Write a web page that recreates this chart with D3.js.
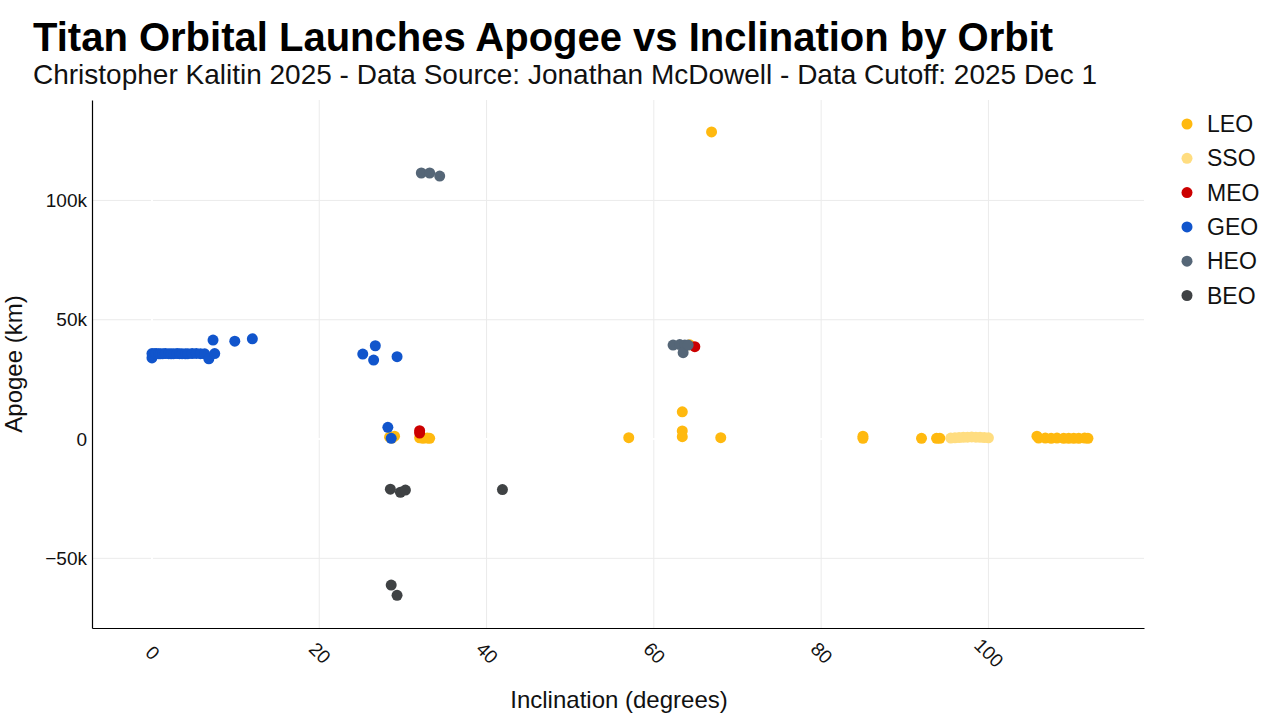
<!DOCTYPE html>
<html>
<head>
<meta charset="utf-8">
<script src="https://cdn.jsdelivr.net/npm/d3@7"></script>
<style>
  body { margin: 0; background: #fff; }
  svg { font-family: "Liberation Sans", Arial, sans-serif; }
</style>
</head>
<body>
<div id="chart"></div>
<script>
// orbit categories and colours (legend order)
var orbits = ["LEO", "SSO", "MEO", "GEO", "HEO", "BEO"];
var orbitColors = ["#ffb90f", "#ffdd80", "#cc0000", "#1155cc", "#556677", "#3f4244"];

// [inclination deg, apogee km] per orbit
var leoPoints = [
  [28.4, 800], [28.7, 400], [29.0, 1200], [32.0, 500], [32.4, 300], [32.9, 400], [33.2, 300],
  [57.0, 550], [63.4, 11400], [63.4, 3400], [63.4, 1000], [64.3, 39500], [66.9, 128700], [68.0, 550],
  [85.0, 1200], [85.0, 300], [92.0, 300], [93.8, 300], [94.2, 300],
  [105.8, 1200], [106.0, 400], [106.8, 400], [107.5, 300], [108.2, 400], [109.0, 300],
  [109.6, 300], [110.2, 300], [110.8, 300], [111.5, 400], [111.9, 300]
];
var ssoPoints = [
  [95.5, 400], [96.0, 500], [96.5, 600], [97.0, 700], [97.5, 800], [98.0, 900],
  [98.5, 800], [99.0, 700], [99.5, 600], [100.0, 500]
];
var meoPoints = [
  [32.0, 3500], [32.0, 2500], [64.9, 38700]
];
var geoPoints = [
  [0.0, 35800], [0.0, 34000], [0.1, 35200], [0.3, 35786], [0.5, 35900], [0.8, 35786], [1.0, 35700],
  [1.3, 35786], [1.6, 35800], [2.0, 35786], [2.3, 35700], [2.6, 35786], [3.0, 35800], [3.3, 35786],
  [3.6, 35786], [4.0, 35700], [4.3, 35786], [4.8, 35800], [5.3, 35900], [5.8, 35786], [6.3, 35700],
  [6.8, 33600], [7.3, 41500], [7.5, 35800], [9.9, 41000], [12.0, 42000],
  [25.2, 35600], [26.5, 33100], [26.7, 39100], [29.3, 34500], [28.2, 4900], [28.6, 300]
];
var heoPoints = [
  [32.2, 111500], [33.2, 111500], [34.4, 110200],
  [62.3, 39400], [63.1, 39600], [63.7, 39400], [63.5, 36200], [64.1, 39400]
];
var beoPoints = [
  [28.5, -21000], [29.7, -22300], [30.3, -21400], [41.9, -21200], [28.6, -61200], [29.3, -65500]
];
var seriesPoints = [leoPoints, ssoPoints, meoPoints, geoPoints, heoPoints, beoPoints];

var xTicks = [0, 20, 40, 60, 80, 100];
var yTicks = [-50000, 0, 50000, 100000];

var titleText = "Titan Orbital Launches Apogee vs Inclination by Orbit";
var subtitleText = "Christopher Kalitin 2025 - Data Source: Jonathan McDowell - Data Cutoff: 2025 Dec 1";

var svgWidth = 1280;
var svgHeight = 720;
var margin = { top: 100, right: 136, bottom: 92, left: 92 };
var width = svgWidth - margin.left - margin.right;
var height = svgHeight - margin.top - margin.bottom;

var svg = d3.select("#chart")
  .append("svg")
  .attr("width", svgWidth)
  .attr("height", svgHeight);

var chartGroup = svg.append("g")
  .attr("transform", `translate(${margin.left}, ${margin.top})`);

var xScale = d3.scaleLinear().domain([-7.17, 118.6]).range([0, width]);
var yScale = d3.scaleLinear().domain([-79200, 142100]).range([height, 0]);

// gridlines
chartGroup.append("g")
  .selectAll("line.gx")
  .data(xTicks)
  .enter().append("line")
  .attr("x1", d => xScale(d)).attr("x2", d => xScale(d))
  .attr("y1", 0).attr("y2", height)
  .attr("stroke", "#ebebeb").attr("stroke-width", 1);

chartGroup.append("g")
  .selectAll("line.gy")
  .data(yTicks)
  .enter().append("line")
  .attr("y1", d => yScale(d)).attr("y2", d => yScale(d))
  .attr("x1", 0).attr("x2", width)
  .attr("stroke", "#ebebeb").attr("stroke-width", 1);

// white zero lines
chartGroup.append("line")
  .attr("x1", xScale(0)).attr("x2", xScale(0))
  .attr("y1", 0).attr("y2", height)
  .attr("stroke", "#fff").attr("stroke-width", 2);
chartGroup.append("line")
  .attr("y1", yScale(0)).attr("y2", yScale(0))
  .attr("x1", 0).attr("x2", width)
  .attr("stroke", "#fff").attr("stroke-width", 2);

// points
seriesPoints.forEach(function(points, i) {
  chartGroup.append("g")
    .selectAll("circle")
    .data(points)
    .enter()
    .append("circle")
    .attr("cx", d => xScale(d[0]))
    .attr("cy", d => yScale(d[1]))
    .attr("r", 5.5)
    .attr("fill", orbitColors[i]);
});

// axes
var xAxis = d3.axisBottom(xScale).tickValues(xTicks).tickSize(0).tickPadding(0);
var yAxis = d3.axisLeft(yScale).tickValues(yTicks).tickSize(0).tickPadding(5)
  .tickFormat(d3.format("~s"));

var xAxisG = chartGroup.append("g")
  .attr("transform", `translate(0, ${height})`)
  .call(xAxis);
xAxisG.select(".domain").attr("stroke", "#000").attr("stroke-width", 1.2);
xAxisG.selectAll("text")
  .attr("y", 0).attr("dy", 0)
  .attr("text-anchor", "middle")
  .attr("dominant-baseline", "central")
  .attr("transform", "translate(0, 25) rotate(45)")
  .attr("font-size", 19)
  .attr("fill", "#111")
  .attr("font-family", "Liberation Sans, Arial, sans-serif");

var yAxisG = chartGroup.append("g").call(yAxis);
yAxisG.select(".domain").attr("stroke", "#000").attr("stroke-width", 1.2);
yAxisG.selectAll("text")
  .attr("font-size", 19)
  .attr("fill", "#111")
  .attr("font-family", "Liberation Sans, Arial, sans-serif");

// axis titles
svg.append("text")
  .attr("transform", `translate(22, ${margin.top + height / 2}) rotate(-90)`)
  .attr("text-anchor", "middle")
  .attr("font-size", 24)
  .attr("fill", "#111")
  .text("Apogee (km)");

svg.append("text")
  .attr("x", 619)
  .attr("y", 708)
  .attr("text-anchor", "middle")
  .attr("font-size", 24)
  .attr("fill", "#111")
  .text("Inclination (degrees)");

// title and subtitle
svg.append("text")
  .attr("x", 33).attr("y", 51)
  .attr("font-size", 40)
  .attr("font-weight", "bold")
  .attr("fill", "#000")
  .text(titleText);

svg.append("text")
  .attr("x", 33).attr("y", 84)
  .attr("font-size", 28)
  .attr("fill", "#111")
  .text(subtitleText);

// legend
var legend = svg.append("g")
  .attr("transform", "translate(1187, 124)");

var legendItems = legend.selectAll("g")
  .data(orbits)
  .enter().append("g")
  .attr("transform", (d, i) => `translate(0, ${i * 34.3})`);

legendItems.append("circle")
  .attr("r", 5.5)
  .attr("fill", (d, i) => orbitColors[i]);

legendItems.append("text")
  .attr("x", 20)
  .attr("dy", "0.35em")
  .attr("font-size", 23)
  .attr("fill", "#111")
  .text(d => d);
</script>
</body>
</html>
